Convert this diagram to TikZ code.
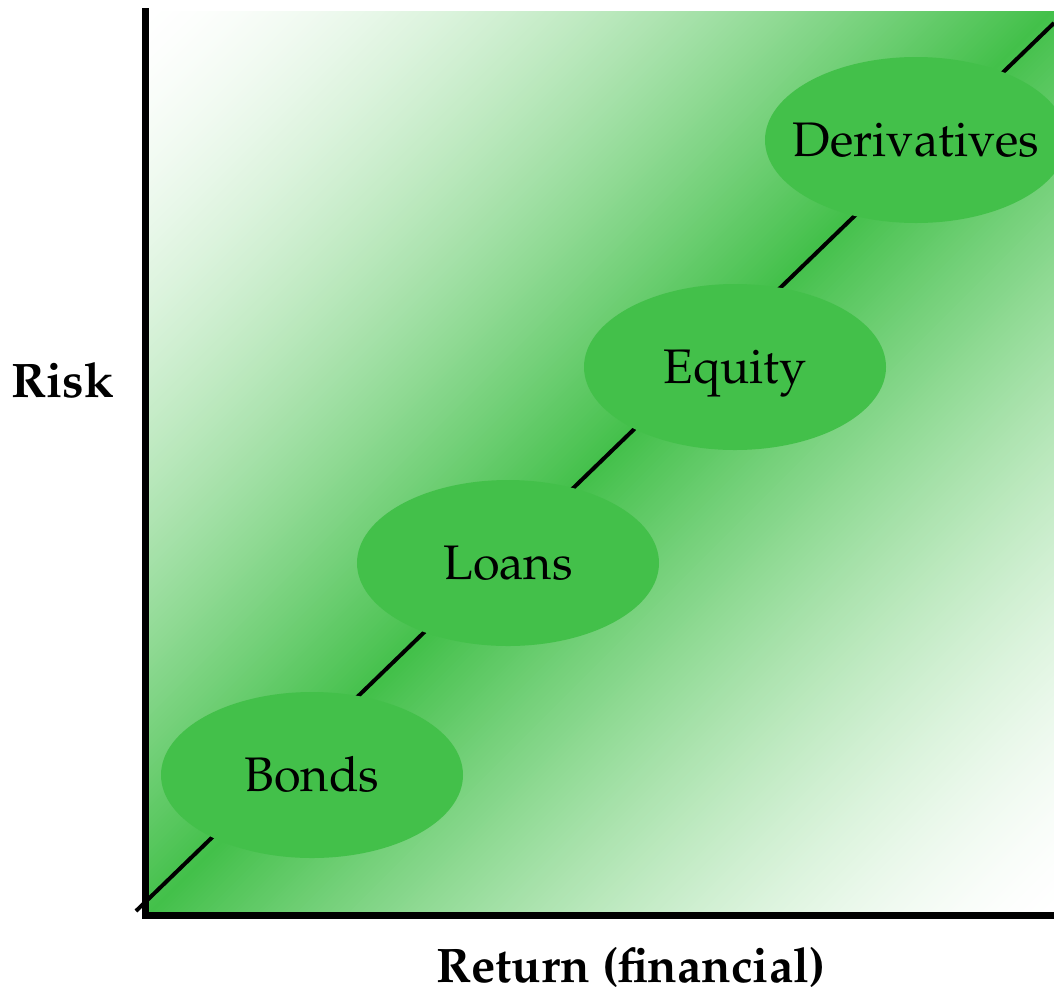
\documentclass[tikz,border=0pt]{standalone}
\usepackage[T1]{fontenc}
\usepackage{mathpazo}
\usetikzlibrary{shapes.geometric}
\definecolor{grn}{RGB}{67,192,74}
\begin{document}
\begin{tikzpicture}[x=0.5pt,y=-0.5pt,
  blob/.style={ellipse, fill=grn, minimum width=151pt, minimum height=83pt, inner sep=0pt},
  blobtext/.style={font=\fontsize{24.25}{29}\selectfont, text height=16.8pt, text depth=0pt, inner sep=0pt},
  axislabel/.style={font=\fontsize{24.25}{29}\selectfont\bfseries, text height=16.8pt, text depth=0pt, inner sep=0pt},
  diagline/.style={line width=2pt},
  axisline/.style={line width=3.5pt}]
\useasboundingbox (0,0) rectangle (1054,992);
% background gradient: white -> green -> white across the anti-diagonal
\begin{scope}
\clip (146,11) rectangle (1054,915);
\foreach \i in {0,...,453} {
  \pgfmathsetmacro\ca{157+4*\i}
  \pgfmathsetmacro\cb{\ca+6}
  \pgfmathsetmacro\dd{min(1,abs(\ca+2-1063)/906)}
  \pgfmathsetmacro\ff{100*pow(max(0.0001,1-\dd),1.5)}
  \fill[grn!\ff!white] (\ca+1000,-1000) -- (\ca-2000,2000) -- (\cb-2000,2000) -- (\cb+1000,-1000) -- cycle;
}
\end{scope}
\coordinate (o) at (136,911);
\coordinate (e) at (1054,23);
\draw[diagline] (o) -- (e);
\node[blob] (bonds) at (312,775) {};
\node[blob] (loans) at (508,563) {};
\node[blob] (equity) at (735,367) {};
\node[blob] (deriv) at (916,140) {};
\node[blobtext] (bondst) at (bonds.center) {Bonds};
\node[blobtext] (loanst) at (loans.center) {Loans};
\node[blobtext] (equityt) at (equity.center) {Equity};
\node[blobtext] (derivt) at (deriv.center) {Derivatives};
\coordinate (ytop) at (145.5,8);
\coordinate (corner) at (145.5,915.5);
\coordinate (xend) at (1054,915.5);
\draw[axisline] (ytop) -- (corner) -- (xend);
\node[axislabel] (risk) at (63,381) {Risk};
\node[axislabel] (ret) at (631,966) {Return (financial)};
\end{tikzpicture}
\end{document}
